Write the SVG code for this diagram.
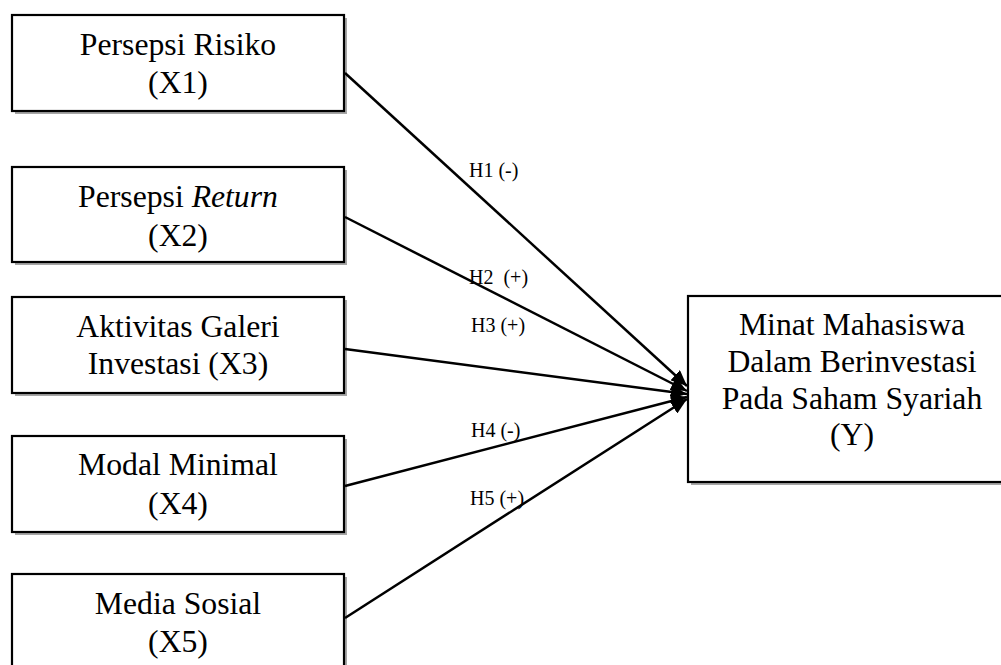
<svg xmlns="http://www.w3.org/2000/svg" width="1001" height="665" viewBox="0 0 1001 665">
<style>
.box{fill:#fff;stroke:#000;stroke-width:2.2}
.sh{fill:#a6a6a6}
.t{font-family:"Liberation Serif","Times New Roman",serif;font-size:31.7px;fill:#000;text-anchor:middle}
.lb{font-family:"Liberation Serif","Times New Roman",serif;font-size:20px;fill:#000;white-space:pre}
.cn{stroke:#000;stroke-width:2.5;fill:none;marker-end:url(#ah)}
</style>
<defs>
<marker id="ah" markerUnits="userSpaceOnUse" markerWidth="18" markerHeight="14" refX="16" refY="7" orient="auto">
<path d="M0,0 L16,7 L0,14 Z" fill="#000"/>
</marker>
</defs>
<rect width="1001" height="665" fill="#fff"/>
<g id="x1">
<rect class="sh" x="15" y="18" width="332" height="96"/>
<rect class="box" x="12" y="15" width="332" height="96"/>
<text class="t" x="178" y="55">Persepsi Risiko</text>
<text class="t" x="178" y="93">(X1)</text>
</g>
<g id="x2">
<rect class="sh" x="15" y="170" width="332" height="95"/>
<rect class="box" x="12" y="167" width="332" height="95"/>
<text class="t" x="178" y="206.5">Persepsi <tspan font-style="italic">Return</tspan></text>
<text class="t" x="178" y="245.5">(X2)</text>
</g>
<g id="x3">
<rect class="sh" x="15" y="300" width="332" height="96"/>
<rect class="box" x="12" y="297" width="332" height="96"/>
<text class="t" x="178" y="337">Aktivitas Galeri</text>
<text class="t" x="178" y="374">Investasi (X3)</text>
</g>
<g id="x4">
<rect class="sh" x="15" y="439" width="332" height="96"/>
<rect class="box" x="12" y="436" width="332" height="96"/>
<text class="t" x="178" y="475">Modal Minimal</text>
<text class="t" x="178" y="514">(X4)</text>
</g>
<g id="x5">
<rect class="sh" x="15" y="577" width="332" height="110"/>
<rect class="box" x="12" y="574" width="332" height="110"/>
<text class="t" x="178" y="614">Media Sosial</text>
<text class="t" x="178" y="652">(X5)</text>
</g>
<g id="y">
<rect class="sh" x="691" y="299" width="328" height="186"/>
<rect class="box" x="688" y="296" width="328" height="186"/>
<text class="t" x="852" y="335">Minat Mahasiswa</text>
<text class="t" x="852" y="372">Dalam Berinvestasi</text>
<text class="t" x="852" y="409">Pada Saham Syariah</text>
<text class="t" x="852" y="445">(Y)</text>
</g>
<g id="connectors">
<line class="cn" x1="345" y1="73" x2="687" y2="386"/>
<line class="cn" x1="345" y1="217" x2="687" y2="391"/>
<line class="cn" x1="345" y1="349" x2="687" y2="394"/>
<line class="cn" x1="345" y1="486" x2="687" y2="397"/>
<line class="cn" x1="345" y1="618" x2="687" y2="399"/>
<text class="lb" x="469" y="177">H1 (-)</text>
<text class="lb" x="469" y="284">H2  (+)</text>
<text class="lb" x="471" y="332">H3 (+)</text>
<text class="lb" x="471" y="437">H4 (-)</text>
<text class="lb" x="470" y="505">H5 (+)</text>
</g>
</svg>
